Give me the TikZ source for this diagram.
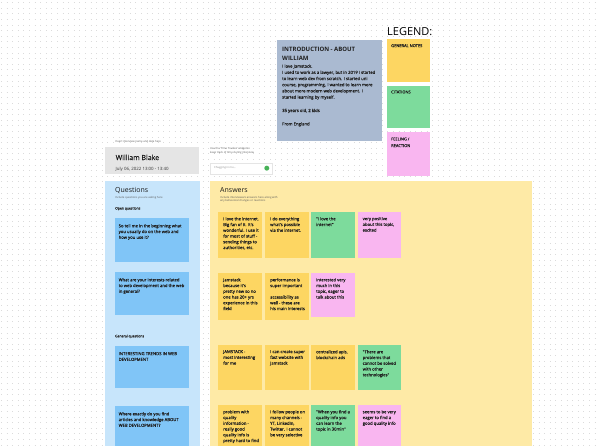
\documentclass[tikz,border=0pt]{standalone}
\usepackage{fontspec}
\setmainfont{Open Sans}
\newfontfamily\medfont{Open Sans}[FakeBold=0.2]
\usetikzlibrary{calc}
\definecolor{qpanel}{RGB}{199,229,251}
\definecolor{qsticky}{RGB}{128,197,247}
\definecolor{apanel}{RGB}{254,234,166}
\definecolor{ysticky}{RGB}{253,214,98}
\definecolor{gsticky}{RGB}{125,219,156}
\definecolor{psticky}{RGB}{249,182,240}
\definecolor{introc}{RGB}{170,186,209}
\definecolor{wboxc}{RGB}{229,229,229}
\definecolor{inkc}{RGB}{32,32,32}
\definecolor{gobtn}{RGB}{72,178,88}
\tikzset{
  box/.style={anchor=north west, inner sep=0pt, draw=none},
  anote/.style={box, minimum width=43.5pt, minimum height=46pt},
  qnote/.style={box, fill=qsticky, minimum width=74pt, minimum height=44pt},
  lgnote/.style={box, minimum width=43pt},
  ntext/.style={anchor=north west, inner sep=0pt, align=left, text=inkc, font=\medfont\fontsize{4.2}{5.75}\selectfont},
  ltext/.style={anchor=base west, inner sep=0pt, text=inkc, font=\medfont\fontsize{4}{5}\selectfont},
  tinytext/.style={inner sep=0pt, align=left, text=black!65, font=\fontsize{2.7}{3.3}\selectfont},
  headtext/.style={anchor=base west, inner sep=0pt, text=black!90, font=\fontsize{7}{8}\selectfont},
  subhead/.style={anchor=base west, inner sep=0pt, text=black!85, font=\medfont\fontsize{3.4}{4}\selectfont},
  gridline/.style={draw=black!14, line width=0.8pt, dash pattern=on 0.8pt off 4.8pt},
}
\begin{document}
\begin{tikzpicture}[x=1pt,y=-1pt]
\useasboundingbox (0,0) rectangle (600,445);
\clip (0,0) rectangle (600,445);
\fill[white] (0,0) rectangle (600,445);
\foreach \yy in {2.5,8.1,...,445} \draw[gridline] (1,\yy) -- (600,\yy);

% legend
\node[anchor=base west, inner sep=0pt, text=black, font=\fontsize{11}{12}\selectfont] (legend) at (387,35) {LEGEND:};
\node[lgnote, fill=ysticky, minimum height=43pt] (lg1) at (387,39) {};
\node[lgnote, fill=gsticky, minimum height=42pt] (lg2) at (387,86) {};
\node[lgnote, fill=psticky, minimum height=44pt] (lg3) at (387,132) {};
\node[ltext] (lg1t) at (391,47.1) {GENERAL NOTES};
\node[ltext] (lg2t) at (391,93.4) {CITATIONS};
\node[ltext] (lg3t) at (391,140.4) {FEELING /};
\node[ltext] (lg3u) at (391,147.1) {REACTION};

% intro
\node[box, fill=introc, minimum width=105pt, minimum height=101pt] (intro) at (277,40) {};
\node[anchor=north west, inner sep=0pt, align=left, text=inkc, font=\fontsize{6}{8.7}\selectfont\bfseries] (introtitle) at (282,46.9) {INTRODUCTION - ABOUT\\WILLIAM};
\node[anchor=north west, inner sep=0pt, align=left, text=inkc, font=\medfont\fontsize{4.25}{6.17}\selectfont] (introbody) at (282,64.3) {I love Jamstack.\\I used to work as a lawyer, but in 2019 I started\\to learn web dev from scratch. I started uni\\course, programming. I wanted to learn more\\about more modern web development. I\\started learning by myself.};
\node[anchor=base west, inner sep=0pt, text=inkc, font=\medfont\fontsize{4.25}{6}\selectfont] (introage) at (282,112) {35 years old, 2 kids};
\node[anchor=base west, inner sep=0pt, text=inkc, font=\medfont\fontsize{4.25}{6}\selectfont] (introfrom) at (282,125.4) {From England};

% interviewee header
\node[tinytext, anchor=base west] (hint) at (115,142.5) {Insert interview name and date here};
\node[box, fill=wboxc, minimum width=94pt, minimum height=27pt] (wb) at (105,147) {};
\node[anchor=base west, inner sep=0pt, text=black!90, font=\medfont\fontsize{7}{8}\selectfont] (wbname) at (115.5,160) {William Blake};
\node[anchor=base west, inner sep=0pt, text=black!80, font=\fontsize{4.4}{5}\selectfont] (wbdate) at (115.5,170.3) {July 06, 2022 13:00 - 13:40};

% timer note
\node[tinytext, anchor=north west] (timenote) at (210,147.7) {Use the 'Time Tracker' widget to\\keep track of time during interview};
\node[box, fill=white, draw=black!10, line width=0.3pt, minimum width=62pt, minimum height=11pt] (inp) at (210,162.5) {};
\node[tinytext, anchor=west, text=black!45] (inpt) at ($(inp.west)+(4,0)$) {Chugging in me...};
\node[circle, fill=gobtn, minimum size=5pt, inner sep=0pt] (gobutton) at ($(inp.east)+(-5.5,0)$) {};

% panels
\node[box, fill=qpanel, minimum width=95pt, minimum height=280pt] (qpanel) at (105,181) {};
\node[box, fill=apanel, minimum width=322pt, minimum height=280pt] (apanel) at (210,181) {};

\node[headtext] (qhead) at (115,192.5) {Questions};
\node[tinytext, anchor=base west] (qsub) at (115,198.5) {Include questions you are asking here};
\node[headtext] (ahead) at (220,192.3) {Answers};
\node[tinytext, anchor=north west] (asub) at (220,195.9) {Include interviewee's answers here along with\\any behavioral changes or reactions};
\node[subhead] (openq) at (115,209.5) {Open questions};
\node[subhead] (genq) at (115,337.3) {General questions};

% question stickies
\node[qnote] (q1) at (115,218) {};
\node[ntext] (tq1) at ($(q1.north west)+(3.5,5.9)$) {So tell me in the beginning what\\you usually do on the web and\\how you use it?};
\node[qnote, minimum height=43pt] (q2) at (115,272) {};
\node[ntext] (tq2) at ($(q2.north west)+(3.5,5.9)$) {What are your interests related\\to web development and the web\\in general?};
\node[qnote, minimum height=42pt] (q3) at (115,346) {};
\node[ntext] (tq3) at ($(q3.north west)+(3.5,5.9)$) {INTERESTING TRENDS IN WEB\\DEVELOPMENT};
\node[qnote, minimum height=60pt] (q4) at (115,406) {};
\node[ntext] (tq4) at ($(q4.north west)+(3.5,5.9)$) {Where exactly do you find\\articles and knowledge ABOUT\\WEB DEVELOPMENT?};

% answers row 1
\node[anote, fill=ysticky] (a11) at (218,212) {};
\node[ntext] (ta11) at ($(a11.north west)+(5,4.9)$) {I love the internet.\\Big fan of it. It's\\wonderful. I use it\\for most of stuff -\\sending things to\\authorities, etc.};
\node[anote, fill=ysticky] (a12) at (265,212) {};
\node[ntext] (ta12) at ($(a12.north west)+(5,4.9)$) {I do everything\\what's possible\\via the internet.};
\node[anote, fill=gsticky] (a13) at (311,212) {};
\node[ntext] (ta13) at ($(a13.north west)+(5,4.9)$) {"I love the\\internet"};
\node[anote, fill=psticky] (a14) at (357.5,212) {};
\node[ntext] (ta14) at ($(a14.north west)+(5,4.9)$) {very positive\\about this topic,\\excited};

% answers row 2
\node[anote, fill=ysticky, minimum height=47pt] (a21) at (218,273) {};
\node[ntext] (ta21) at ($(a21.north west)+(5,4.9)$) {Jamstack\\because it's\\pretty new so no\\one has 20+ yrs\\experience in this\\field};
\node[anote, fill=ysticky, minimum height=47pt] (a22) at (265,273) {};
\node[ntext] (ta22) at ($(a22.north west)+(5,4.9)$) {performance is\\super important\\[5.75pt]accessibility as\\well - these are\\his main interests};
\node[anote, fill=psticky, minimum height=44pt] (a23) at (311,273) {};
\node[ntext] (ta23) at ($(a23.north west)+(5,4.9)$) {interested very\\much in this\\topic, eager to\\talk about this};

% answers row 3
\node[anote, fill=ysticky, minimum height=45pt] (a31) at (218,345) {};
\node[ntext] (ta31) at ($(a31.north west)+(5,4.9)$) {JAMSTACK -\\most interesting\\for me};
\node[anote, fill=ysticky, minimum height=45pt] (a32) at (265,345) {};
\node[ntext] (ta32) at ($(a32.north west)+(5,4.9)$) {I can create super\\fast website with\\Jamstack};
\node[anote, fill=ysticky, minimum height=45pt] (a33) at (311,345) {};
\node[ntext] (ta33) at ($(a33.north west)+(5,4.9)$) {centralized apis,\\blockchain ads};
\node[anote, fill=gsticky, minimum height=45pt] (a34) at (357.5,345) {};
\node[ntext] (ta34) at ($(a34.north west)+(5,4.9)$) {"There are\\problems that\\cannot be solved\\with other\\technologies"};

% answers row 4
\node[anote, fill=ysticky, minimum height=60pt] (a41) at (218,405) {};
\node[ntext] (ta41) at ($(a41.north west)+(5,4.9)$) {problem with\\quality\\information -\\really good\\quality info is\\pretty hard to find};
\node[anote, fill=ysticky, minimum height=60pt] (a42) at (265,405) {};
\node[ntext] (ta42) at ($(a42.north west)+(5,4.9)$) {I follow people on\\many channels -\\YT, LinkedIn,\\Twitter. I cannot\\be very selective};
\node[anote, fill=gsticky, minimum height=60pt] (a43) at (311,405) {};
\node[ntext] (ta43) at ($(a43.north west)+(5,4.9)$) {"When you find a\\quality info you\\can learn the\\topic in 30min"};
\node[anote, fill=psticky, minimum height=60pt] (a44) at (357.5,405) {};
\node[ntext] (ta44) at ($(a44.north west)+(5,4.9)$) {seems to be very\\eager to find a\\good quality info};
\end{tikzpicture}
\end{document}
